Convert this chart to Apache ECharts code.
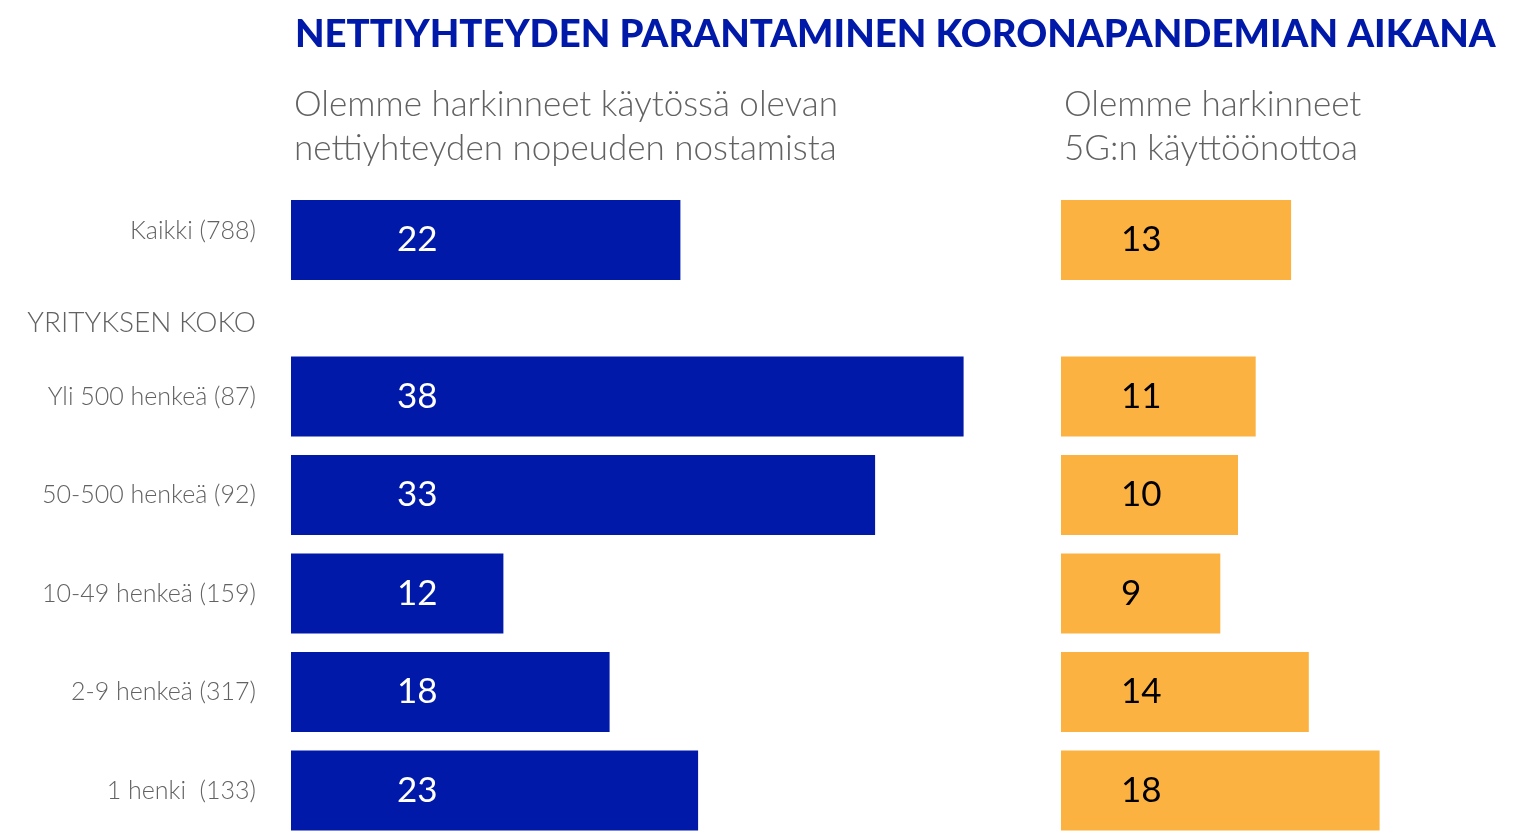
<!DOCTYPE html>
<html lang="fi">
<head>
    <meta charset="UTF-8">
    <script src="https://cdn.jsdelivr.net/npm/echarts@6/dist/echarts.min.js"></script>
    <style>
        html, body { margin: 0; padding: 0; background: #fff; }
        #pic { width: 1523px; height: 831px; }
    </style>
    <title>Nettiyhteyden parantaminen</title>
</head>
<body>
<div id="pic"></div>
<script type="text/javascript">
    // rivit
    var groupAll = ['Kaikki (788)'];
    var sizeGroups = ['Yli 500 henkeä (87)', '50-500 henkeä (92)', '10-49 henkeä (159)', '2-9 henkeä (317)', '1 henki  (133)'];
    // arvot (%)
    var speedAll = [22];
    var speedBySize = [38, 33, 12, 18, 23];
    var fiveGAll = [13];
    var fiveGBySize = [11, 10, 9, 14, 18];

    var blue = '#0019a9';
    var orange = '#fcb241';
    var grey = '#626262';
    var font = 'Lato';

    function xAx(idx, max) {
        return { gridIndex: idx, type: 'value', min: 0, max: max, show: false };
    }
    // boundaryGap false: rivit tikkien kohdalla, jotta ruudukko mahtuu kuvaan
    function yAx(idx, cats, showLabels, gap, vAlign, lh) {
        return {
            gridIndex: idx, type: 'category', data: cats, inverse: true, boundaryGap: gap,
            axisLine: { show: false }, axisTick: { show: false }, splitLine: { show: false },
            axisLabel: {
                show: showLabels, color: grey, fontFamily: font, fontWeight: 300, fontSize: 25,
                margin: 35, align: 'right', verticalAlign: vAlign, lineHeight: lh
            }
        };
    }
    function barSeries(idx, data, color, labelColor, dist) {
        return {
            type: 'bar', xAxisIndex: idx, yAxisIndex: idx, data: data,
            barWidth: 80, clip: false, itemStyle: { color: color },
            label: {
                show: true, position: 'insideLeft', distance: dist,
                color: labelColor, fontFamily: font, fontSize: 35
            },
            silent: true
        };
    }

    var chart = echarts.init(document.getElementById('pic'));
    var option = {
        animation: false,
        title: [
            {
                text: 'NETTIYHTEYDEN PARANTAMINEN KORONAPANDEMIAN AIKANA',
                left: 290, top: 11,
                textStyle: { color: blue, fontFamily: font, fontWeight: 900, fontSize: 38.3 }
            },
            {
                text: 'Olemme harkinneet käytössä olevan\nnettiyhteyden nopeuden nostamista',
                left: 289, top: 78,
                textStyle: { color: grey, fontFamily: font, fontWeight: 300, fontSize: 35, lineHeight: 44 }
            },
            {
                text: 'Olemme harkinneet\n5G:n käyttöönottoa',
                left: 1059, top: 78,
                textStyle: { color: grey, fontFamily: font, fontWeight: 300, fontSize: 35, lineHeight: 44 }
            }
        ],
        graphic: [{
            type: 'text', right: 1523 - 256, top: 309,
            style: { text: 'YRITYKSEN KOKO', fill: grey, font: '300 28px Lato', textAlign: 'right' }
        }],
        grid: [
            { left: 291, top: 200, width: 708, height: 80 },
            { left: 1061, top: 200, width: 354, height: 80 },
            { left: 291, top: 396.5, width: 708, height: 394 },
            { left: 1061, top: 396.5, width: 354, height: 394 }
        ],
        xAxis: [xAx(0, 40), xAx(1, 20), xAx(2, 40), xAx(3, 20)],
        yAxis: [
            yAx(0, groupAll, true, true, 'bottom', 18),
            yAx(1, groupAll, false, true, 'middle', 25),
            yAx(2, sizeGroups, true, false, 'middle', 25),
            yAx(3, sizeGroups, false, false, 'middle', 25)
        ],
        series: [
            barSeries(0, speedAll, blue, '#fff', 106),
            barSeries(1, fiveGAll, orange, '#000', 60),
            barSeries(2, speedBySize, blue, '#fff', 106),
            barSeries(3, fiveGBySize, orange, '#000', 60)
        ]
    };
    chart.setOption(option);
</script>
</body>
</html>
